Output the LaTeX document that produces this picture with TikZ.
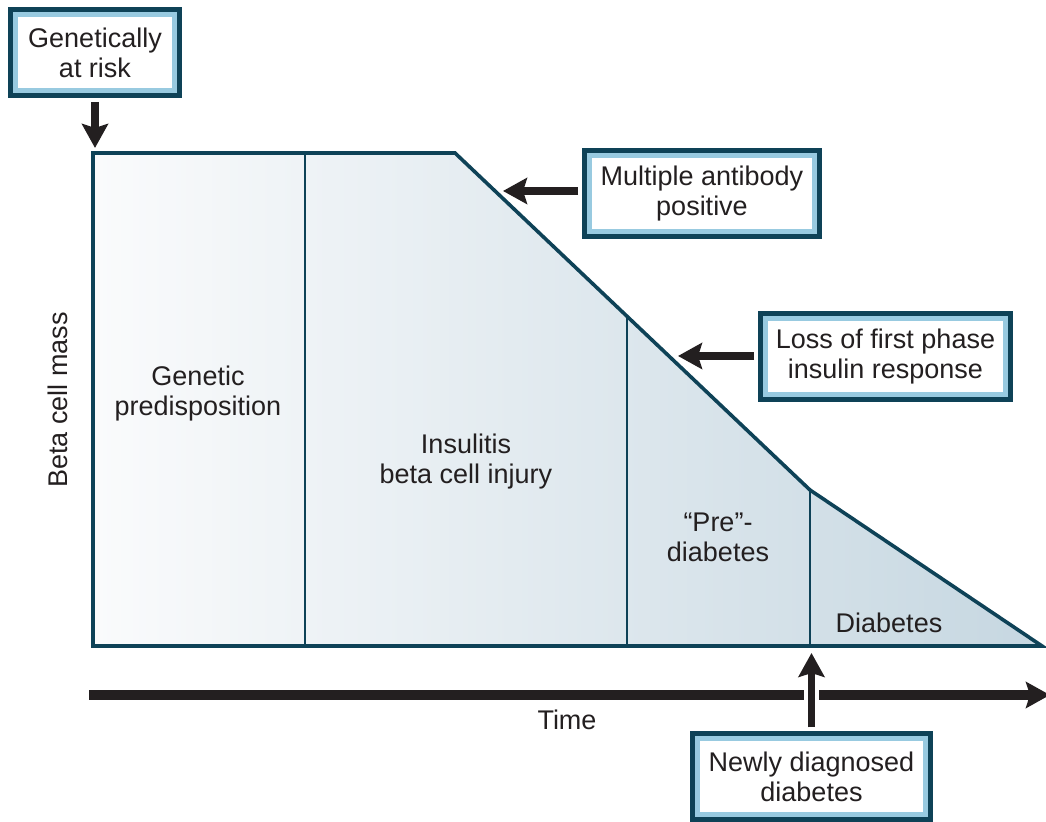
\documentclass[tikz,border=0pt]{standalone}
\usepackage{fontspec}
\setmainfont{Liberation Sans}
\usetikzlibrary{arrows.meta,positioning,calc}
\definecolor{edge}{HTML}{0E4257}
\definecolor{rim}{HTML}{98CAE0}
\definecolor{lite}{HTML}{FAFBFC}
\definecolor{deep}{HTML}{C6D7E1}
\definecolor{ink}{HTML}{231F20}

\begin{document}
\begin{tikzpicture}[x=0.5pt,y=-0.5pt,
  every node/.style={font=\fontsize{13.5}{15}\selectfont,text=ink,align=center},
  tag/.style={preaction={draw=edge,line width=7.5pt},draw=rim,line width=2.5pt,fill=white,
    minimum height=38pt,inner sep=2pt,outer sep=5.75pt},
  arr/.style={draw=ink,line width=3.75pt,-{Stealth[length=12pt,width=13pt,inset=2pt]}},
  wall/.style={draw=edge,line width=1pt}]
\useasboundingbox (0,0) rectangle (1046,822);
%
% beta cell mass curve
  \coordinate (a) at (93,153);
  \coordinate (b) at (455,153);
  \coordinate (c) at (810,490);
  \coordinate (d) at (1042,646);
  \coordinate (e) at (93,646);
  \draw[edge,line width=1.8pt,line join=miter,left color=lite,right color=deep]
    (a) -- (b) -- (c) -- (d) -- (e) -- cycle;
  \coordinate (s1) at ($(a)!0.5856!(b)$);
  \coordinate (s2) at ($(b)!0.4845!(c)$);
  \draw[wall] (s1) -- (s1 |- e);
  \draw[wall] (s2) -- (s2 |- e);
  \draw[wall] (c) -- (c |- e);
%
% stages
  \node (gen) at (198,394) {Genetic\\predisposition};
  \node (ins) at (466,462) {Insulitis\\beta cell injury};
  \node (pre) at (718,537) {“Pre”-\\diabetes};
  \node (dia) at (889,623) {Diabetes};
  \node[rotate=90] (mass) at (58,400) {Beta cell mass};
%
% time axis
  \coordinate (t0) at (89,695);
  \coordinate (t1) at (1050,695);
  \draw[arr,line width=5pt] (t0) -- (t1);
  \node (time) at (567,720) {Time};
%
% events
  \node[tag,minimum width=79.5pt] (G) at (95,52.5) {Genetically\\at risk};
  \node[tag,minimum width=112.5pt] (M) at (702,193.5) {Multiple antibody\\positive};
  \node[tag,minimum width=120pt] (L) at (885.5,357) {Loss of first phase\\insulin response};
  \node[tag,minimum width=114pt] (N) at (811.5,777) {Newly diagnosed\\diabetes};
%
  \coordinate (tG) at (95,148);
  \coordinate (tM) at (503,191);
  \coordinate (tL) at (678,356);
  \coordinate (tN) at (811.5,653);
  \draw[arr] (G) -- (tG);
  \draw[arr] (M.west |- tM) -- (tM);
  \draw[arr] (L.west |- tL) -- (tL);
  \draw[white,line width=7.5pt] ($(N.north |- t0)+(0,-14)$) -- ($(N.north |- t0)+(0,14)$);
  \draw[arr] (N) -- (tN);
\end{tikzpicture}
\end{document}
